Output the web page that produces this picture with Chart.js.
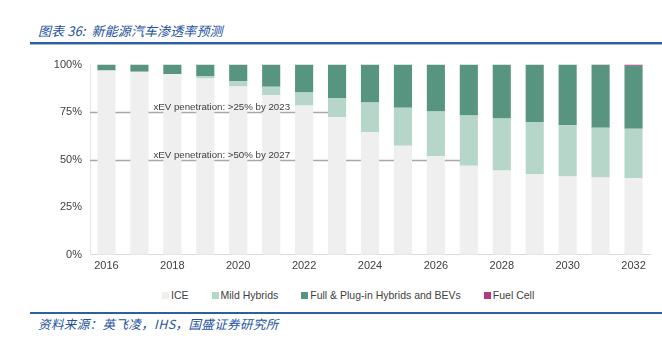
<!DOCTYPE html>
<html>
<head>
<meta charset="utf-8">
<script src="https://cdn.jsdelivr.net/npm/chart.js@4.4.1/dist/chart.umd.min.js"></script>
<style>
  html, body { margin: 0; padding: 0; background: #fff; }
  body { width: 662px; height: 338px; position: relative; overflow: hidden; font-family: "Liberation Sans", Arial, sans-serif; }
  #title { position: absolute; left: 38px; top: 21px; font-family: "Noto Sans CJK SC", sans-serif; font-style: italic; font-size: 13px; color: #2452a0; letter-spacing: 0.1px; white-space: nowrap; }
  #topline { position: absolute; left: 30px; right: 0; top: 42px; height: 2px; background: #2e5ea8; border-bottom: 1px solid #9bb5dc; }
  #botline { position: absolute; left: 30px; right: 0; top: 312px; height: 2px; background: #2e5ea8; }
  #foot { position: absolute; left: 38px; top: 314px; font-family: "Noto Sans CJK SC", sans-serif; font-style: italic; font-size: 12.5px; color: #2452a0; letter-spacing: 0.4px; white-space: nowrap; }
  #wrap { position: absolute; left: 0; top: 50px; width: 662px; height: 228px; }
  #legend { position: absolute; top: 289px; left: 162px; display: flex; font-size: 10.5px; color: #404040; white-space: nowrap; }
  .it { display: flex; align-items: center; margin-right: 23px; }
  .sw { width: 7px; height: 7px; margin-right: 2px; }
</style>
</head>
<body>
<div id="title">图表 36:&nbsp; 新能源汽车渗透率预测</div>
<div id="topline"></div>
<div id="wrap"><canvas id="c"></canvas></div>
<div id="legend"></div>
<div id="botline"></div>
<div id="foot">资料来源：英飞凌，IHS，国盛证券研究所</div>
<script>
const years = ["2016","2017","2018","2019","2020","2021","2022","2023","2024","2025","2026","2027","2028","2029","2030","2031","2032"];
const ice      = [96.9, 96.2, 95.1, 92.7, 88.5, 83.9, 78.5, 72.3, 64.4, 57.4, 51.8, 46.8, 44.3, 42.4, 41.2, 40.7, 40.2];
const mild     = [0.0, 0.0, 0.0, 1.2, 2.8, 4.4, 6.8, 10.1, 15.7, 19.9, 23.6, 26.5, 27.3, 27.4, 26.9, 26.1, 26.1];
const full     = [3.1, 3.8, 4.9, 6.1, 8.7, 11.7, 14.7, 17.6, 19.9, 22.7, 24.6, 26.7, 28.4, 30.2, 31.9, 33.0, 33.1];
const fuelCell = [0, 0, 0, 0, 0, 0, 0, 0, 0, 0, 0, 0, 0, 0, 0, 0.2, 0.6];
const yTicks = [0, 25, 50, 75, 100];
const seriesNames = ["ICE", "Mild Hybrids", "Full & Plug-in Hybrids and BEVs", "Fuel Cell"];
const seriesColors = ["#efefef", "#b6d6ca", "#579581", "#b23a7c"];
const refLines = [
  { value: 75, year: "2023", text: "xEV penetration: >25% by 2023" },
  { value: 50, year: "2027", text: "xEV penetration: >50% by 2027" }
];

const refPlugin = {
  id: 'refLines',
  beforeDatasetsDraw(chart) {
    const { ctx, scales: { x, y }, chartArea } = chart;
    ctx.save();
    ctx.strokeStyle = '#a8a8a8';
    ctx.lineWidth = 1.5;
    refLines.forEach(r => {
      const py = Math.round(y.getPixelForValue(r.value)) + 0.5;
      const px = x.getPixelForValue(years.indexOf(r.year));
      ctx.beginPath();
      ctx.moveTo(chartArea.left, py);
      ctx.lineTo(px, py);
      ctx.stroke();
    });
    ctx.restore();
  },
  afterDatasetsDraw(chart) {
    const { ctx, scales: { x, y } } = chart;
    ctx.save();
    ctx.fillStyle = '#404040';
    ctx.font = '9.7px "Liberation Sans", Arial, sans-serif';
    ctx.textAlign = 'center';
    ctx.textBaseline = 'alphabetic';
    refLines.forEach(r => {
      const py = y.getPixelForValue(r.value) - 2;
      const px = (x.getPixelForValue(3) + x.getPixelForValue(4)) / 2;
      ctx.fillText(r.text, px, py);
    });
    ctx.restore();
  }
};

const data = [ice, mild, full, fuelCell];
new Chart(document.getElementById('c'), {
  type: 'bar',
  data: {
    labels: years,
    datasets: data.map((d, i) => ({
      label: seriesNames[i],
      data: d,
      backgroundColor: seriesColors[i],
      borderWidth: 0,
      barPercentage: 0.55,
      categoryPercentage: 1.0
    }))
  },
  options: {
    responsive: true,
    maintainAspectRatio: false,
    animation: false,
    layout: { padding: { left: 0, right: 12, top: 6, bottom: 0 } },
    plugins: { legend: { display: false }, tooltip: { enabled: false } },
    scales: {
      x: {
        stacked: true,
        grid: { display: false, drawTicks: false },
        border: { display: true, color: '#d9d9d9', width: 1 },
        ticks: {
          autoSkip: false, maxRotation: 0, padding: 5,
          color: '#404040', font: { size: 11, family: '"Liberation Sans", Arial, sans-serif' },
          callback: (v, i) => (i % 2 === 0 ? years[i] : '')
        }
      },
      y: {
        stacked: true,
        min: 0, max: 100,
        afterBuildTicks: s => { s.ticks = yTicks.map(v => ({ value: v })); },
        afterFit: s => { s.width = 90; },
        grid: { display: false, drawTicks: false },
        border: { display: true, color: '#e6e6e6', width: 1 },
        ticks: {
          padding: 8, color: '#404040',
          font: { size: 11, family: '"Liberation Sans", Arial, sans-serif' },
          callback: v => v + '%'
        }
      }
    }
  },
  plugins: [refPlugin]
});

const lg = document.getElementById('legend');
seriesNames.forEach((n, i) => {
  const it = document.createElement('div');
  it.className = 'it';
  it.innerHTML = '<span class="sw" style="background:' + seriesColors[i] + '"></span><span>' + n + '</span>';
  lg.appendChild(it);
});
</script>
</body>
</html>
